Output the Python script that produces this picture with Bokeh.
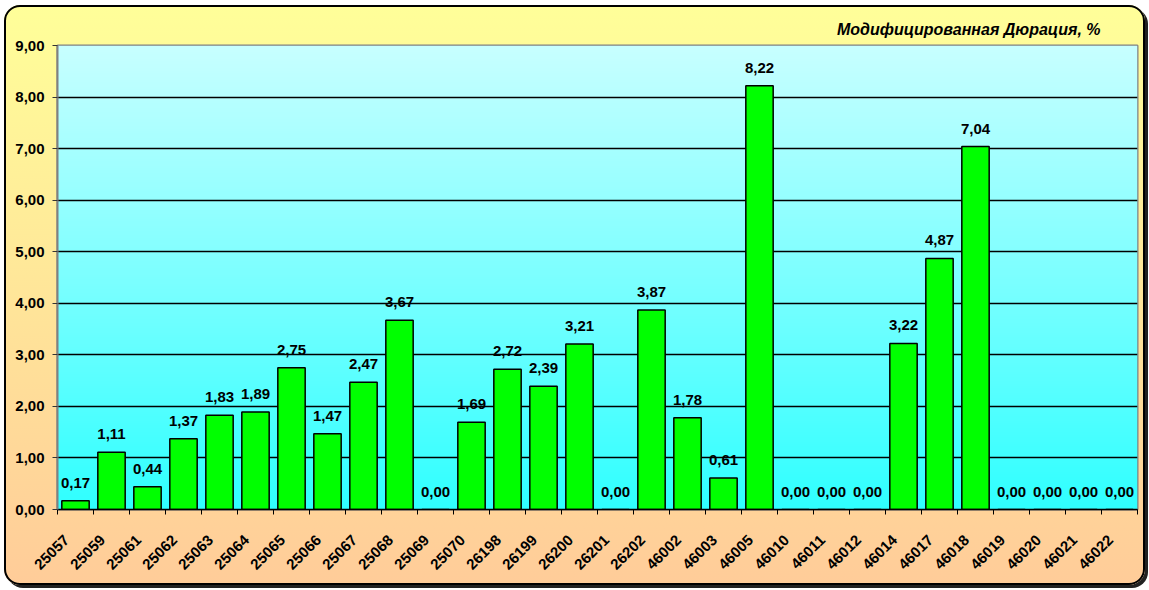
import numpy as np
from bokeh.plotting import figure
from bokeh.models import (ColumnDataSource, FactorRange, Range1d, LinearAxis, FixedTicker,
                          CustomJSTickFormatter)
from bokeh.core.properties import value
from bokeh.embed import file_html
from bokeh.resources import INLINE

# ---- data ----
categories = ["25057", "25059", "25061", "25062", "25063", "25064", "25065", "25066", "25067", "25068",
              "25069", "25070", "26198", "26199", "26200", "26201", "26202", "46002", "46003", "46005",
              "46010", "46011", "46012", "46014", "46017", "46018", "46019", "46020", "46021", "46022"]
durations = [0.17, 1.11, 0.44, 1.37, 1.83, 1.89, 2.75, 1.47, 2.47, 3.67,
             0.00, 1.69, 2.72, 2.39, 3.21, 0.00, 3.87, 1.78, 0.61, 8.22,
             0.00, 0.00, 0.00, 3.22, 4.87, 7.04, 0.00, 0.00, 0.00, 0.00]
y_ticks = [0, 1, 2, 3, 4, 5, 6, 7, 8, 9]
title_text = "Модифицированная Дюрация, %"

FONT = "Liberation Sans"
NUM_SIZE = "15px"
n = len(categories)

src = ColumnDataSource(dict(
    cat=categories,
    val=durations,
    lbl=[f"{v:.2f}".replace(".", ",") for v in durations],
))

p = figure(x_range=FactorRange(*categories), y_range=Range1d(0, 9),
           width=1141, height=580,
           min_border_left=53, min_border_top=40, min_border_right=8, min_border_bottom=76,
           output_backend="svg", toolbar_location=None, x_axis_location=None)

p.border_fill_alpha = 0
p.background_fill_color = "#9EFFFF"
p.outline_line_color = "#808080"
p.outline_line_width = 2
p.styles = {
    "margin": "5px 0px 0px 4px",
    "background": "linear-gradient(to bottom, #FFFF99 0%, #FFCC99 100%)",
    "border-radius": "16px",
    "box-shadow": "inset 0 0 0 2px #000000, 3px 3px 0 0 #222222",
}

# plot area gradient (background image, bottom to top), in synthetic category coordinates
rows = 200
t = np.linspace(0, 1, rows)
top_c = np.array([200, 255, 255])
bot_c = np.array([48, 255, 255])
img = np.zeros((rows, 1), dtype=np.uint32)
view = img.view(dtype=np.uint8).reshape((rows, 1, 4))
for i in range(rows):
    c = bot_c + (top_c - bot_c) * t[i]
    view[i, 0, 0] = int(c[0]); view[i, 0, 1] = int(c[1]); view[i, 0, 2] = int(c[2]); view[i, 0, 3] = 255
p.image_rgba(image=[img], x=0, y=0, dw=n, dh=9, level="image")

# grid
p.xgrid.visible = False
p.ygrid.ticker = FixedTicker(ticks=y_ticks)
p.ygrid.grid_line_color = "black"
p.ygrid.grid_line_width = 1.6

# bars
p.vbar(x="cat", top="val", width=0.76, source=src, fill_color="#00FF00",
       line_color="black", line_width=1.5)

# value labels
p.text(x="cat", y="val", text="lbl", source=src, text_align="center", text_baseline="alphabetic",
       y_offset=-18, text_font=value(FONT), text_font_style="bold", text_font_size=NUM_SIZE,
       text_color="black")

# y axis
ya = p.yaxis[0]
ya.ticker = FixedTicker(ticks=y_ticks)
ya.formatter = CustomJSTickFormatter(code="return tick.toFixed(2).replace('.', ',');")
ya.major_label_text_font = FONT
ya.major_label_text_font_style = "bold"
ya.major_label_text_font_size = NUM_SIZE
ya.major_label_text_color = "black"
ya.major_label_standoff = 8
ya.major_tick_out = 5
ya.major_tick_in = 0
ya.major_tick_line_color = "#333333"
ya.minor_tick_line_color = None
ya.axis_line_color = "#808080"
ya.axis_line_width = 2

# x axis: boundary ticks + rotated category labels (synthetic coordinates of the factor range)
xa = LinearAxis(ticker=FixedTicker(ticks=[i + 0.25 for i in range(n)], minor_ticks=list(range(n + 1))),
                formatter=CustomJSTickFormatter(args=dict(labels=categories),
                                                code="return labels[Math.floor(tick)];"))
xa.major_label_orientation = np.pi / 4
xa.major_label_text_font = FONT
xa.major_label_text_font_style = "bold"
xa.major_label_text_font_size = NUM_SIZE
xa.major_label_text_color = "black"
xa.major_label_standoff = 23
xa.major_tick_line_color = None
xa.major_tick_out = 0
xa.major_tick_in = 0
xa.minor_tick_out = 5
xa.minor_tick_in = 0
xa.minor_tick_line_color = "black"
xa.minor_tick_line_width = 1
xa.axis_line_color = "black"
xa.axis_line_width = 1.5
p.add_layout(xa, "below")

# title
p.title.text = title_text
p.title.align = "right"
p.title.offset = 37
p.title.text_font = FONT
p.title.text_font_style = "bold italic"
p.title.text_font_size = "16px"
p.title.text_color = "black"
p.title.standoff = 15

open("out.html", "w").write(file_html(p, INLINE))
